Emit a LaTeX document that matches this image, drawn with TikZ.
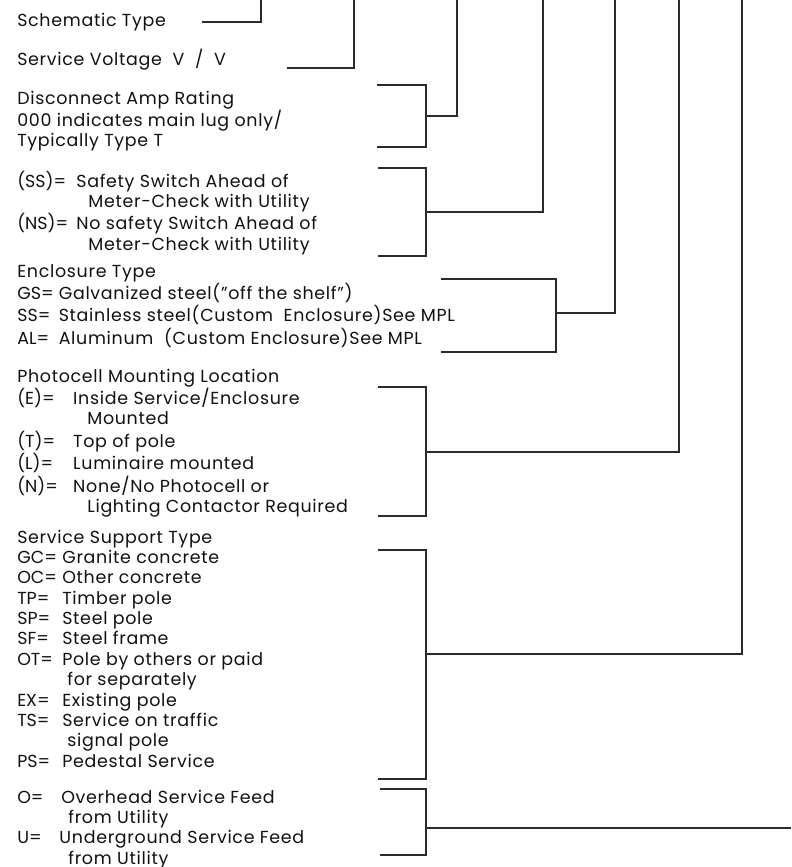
\documentclass[tikz,border=0pt]{standalone}
\usepackage{fontspec}
\setmainfont{Poppins}[LetterSpace=4]
\definecolor{leadgray}{HTML}{2B2B2B}
\definecolor{textblack}{HTML}{111111}
\newcommand{\legendfont}{\fontsize{12.4}{14.5}\selectfont}
\newcommand{\cd}[2]{\makebox[#1][l]{\addfontfeature{LetterSpace=0}#2}}
\newenvironment{legendlines}{\begin{tabular}[t]{@{}l@{}}}{\end{tabular}}
\tikzset{
  legend/.style={
    anchor=base west,
    inner sep=0pt,
    font=\legendfont,
    text=textblack,
  },
  lead/.style={
    line width=1.1pt,
    draw=leadgray,
  },
}
\begin{document}
\begin{tikzpicture}[x=0.025cm,y=-0.025cm]
  \useasboundingbox (0,0) rectangle (791,867);

  \node[legend] (schem) at (17,27) {Schematic Type};
  \node[legend] (volt) at (17,66) {Service Voltage \ V \ / \ V};

  \node[legend] (amp) at (17,104) {\begin{legendlines}
    Disconnect Amp Rating\\
    000 indicates main lug only/\\
    Typically Type T
  \end{legendlines}};

  \node[legend] (switch) at (17,187) {\begin{legendlines}
    \cd{42pt}{(SS)=}Safety Switch Ahead of\\
    \hspace*{50.5pt}Meter-Check with Utility\\
    \cd{42pt}{(NS)=}No safety Switch Ahead of\\
    \hspace*{50.5pt}Meter-Check with Utility
  \end{legendlines}};

  \node[legend] (encl) at (17,277) {\begin{legendlines}
    Enclosure Type\\
    \cd{29.5pt}{GS=}Galvanized steel("off the shelf")\\
    \cd{29.5pt}{SS=}Stainless steel(Custom \ Enclosure)See MPL\\
    \cd{29.5pt}{AL=}Aluminum \ (Custom Enclosure)See MPL
  \end{legendlines}};

  \node[legend] (photo) at (17,382) {\begin{legendlines}
    Photocell Mounting Location\\
    \cd{39.8pt}{(E)=}Inside Service/Enclosure\\
    \hspace*{49.8pt}Mounted\\
    \cd{39.8pt}{(T)=}Top of pole\\
    \cd{39.8pt}{(L)=}Luminaire mounted\\
    \cd{39.8pt}{(N)=}None/No Photocell or\\
    \hspace*{49.8pt}Lighting Contactor Required
  \end{legendlines}};

  \node[legend] (support) at (17,543) {\begin{legendlines}
    Service Support Type\\
    \cd{32pt}{GC=}Granite concrete\\
    \cd{32pt}{OC=}Other concrete\\
    \cd{32pt}{TP=}Timber pole\\
    \cd{32pt}{SP=}Steel pole\\
    \cd{32pt}{SF=}Steel frame\\
    \cd{32pt}{OT=}Pole by others or paid\\
    \hspace*{35.6pt}for separately\\
    \cd{32pt}{EX=}Existing pole\\
    \cd{32pt}{TS=}Service on traffic\\
    \hspace*{35.6pt}signal pole\\
    \cd{32pt}{PS=}Pedestal Service
  \end{legendlines}};

  \node[legend] (feed) at (17,803) {\begin{legendlines}
    \cd{31.3pt}{O=}Overhead Service Feed\\
    \hspace*{36.3pt}from Utility\\
    \cd{30pt}{U=}Underground Service Feed\\
    \hspace*{36.3pt}from Utility
  \end{legendlines}};

  % single leads
  \draw[lead] (202,22) -| (261,0);
  \draw[lead] (287,68) -| (354,0);

  % brackets: left / top / bottom / spine / tap / riser
  \foreach \xl/\yt/\yb/\xs/\ym/\xr in {377/85/147/426/116/457,
      378/168/256/426/212/543, 441/279/352/556/313/615,
      378/387/516/426/452/679, 378/550/779/426/654/742}
    \draw[lead] (\xl,\yt) -| (\xs,\yb) -- (\xl,\yb) (\xs,\ym) -| (\xr,0);

  \draw[lead] (380,789) -| (426,855) -- (380,855) (426,828) -- (791,828);
\end{tikzpicture}
\end{document}
